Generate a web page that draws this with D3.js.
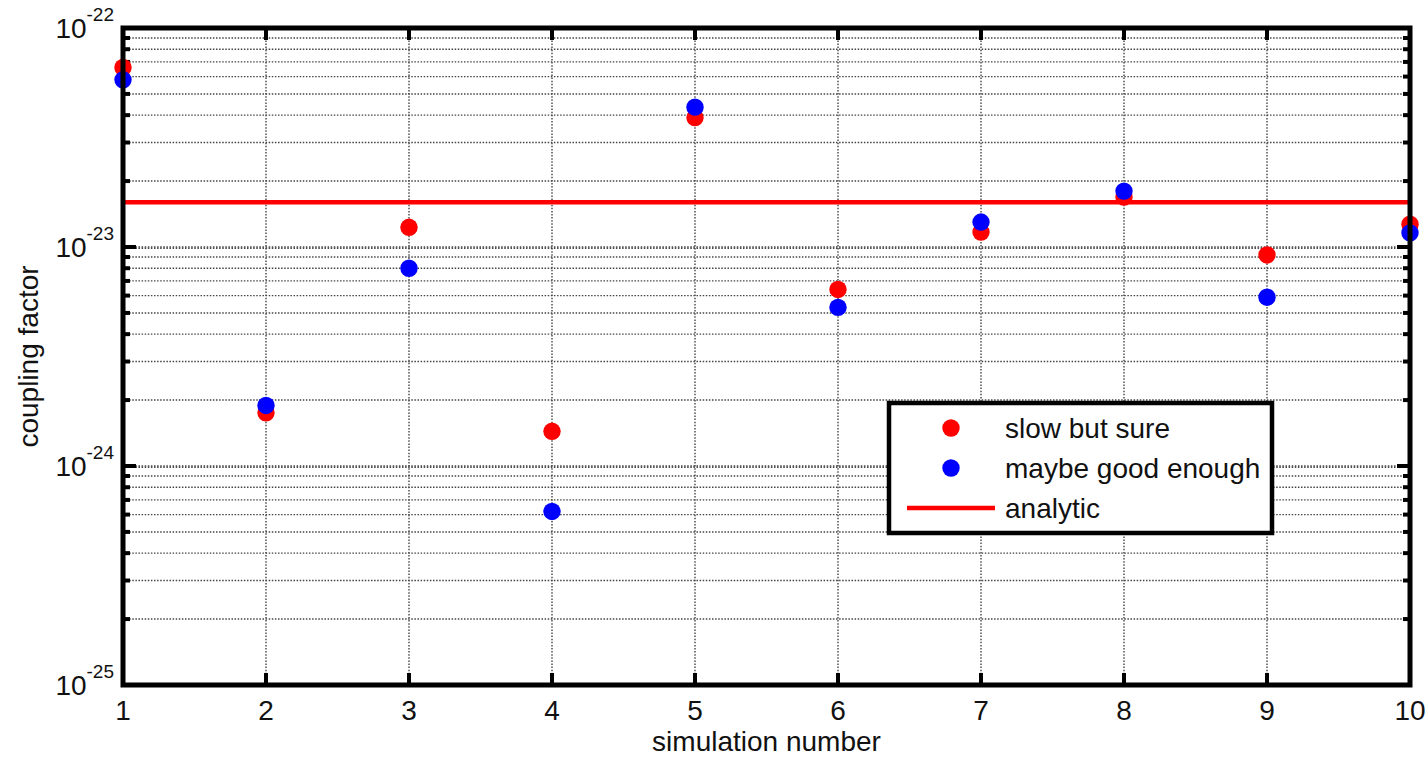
<!DOCTYPE html>
<html>
<head>
<meta charset="utf-8">
<script src="https://cdn.jsdelivr.net/npm/d3@7"></script>
<style>
  body { margin: 0; background: #fff; }
  svg { display: block; font-family: "Liberation Sans", Arial, sans-serif; }
</style>
</head>
<body>
<svg id="chart" width="1428" height="758"></svg>
<script>
// data
const sims = [1, 2, 3, 4, 5, 6, 7, 8, 9, 10];
const slowButSure = [6.6e-23, 1.75e-24, 1.23e-23, 1.44e-24, 3.9e-23, 6.4e-24, 1.17e-23, 1.69e-23, 9.2e-24, 1.27e-23];
const maybeGood = [5.8e-23, 1.89e-24, 8.0e-24, 6.2e-25, 4.35e-23, 5.3e-24, 1.3e-23, 1.8e-23, 5.9e-24, 1.16e-23];
const analytic = 1.6e-23;
const decades = [-25, -24, -23, -22];
const legendItems = ["slow but sure", "maybe good enough", "analytic"];

const svg = d3.select("#chart");
const pL = 123, pR = 1410, pT = 28, pB = 685;

const x = d3.scaleLinear().domain([1, 10]).range([pL, pR]);
const y = d3.scaleLog().domain([1e-25, 1e-22]).range([pB, pT]);

// minor ticks 2..9 in each decade
let minor = [];
decades.slice(0, 3).forEach(d => {
  for (let k = 2; k <= 9; k++) minor.push(k * Math.pow(10, d));
});
const major = decades.map(d => Math.pow(10, d));

const grid = svg.append("g")
  .attr("stroke", "#444").attr("stroke-width", 1.4).attr("stroke-dasharray", "1.5,1.6");
// horizontal grid
grid.selectAll("line.hm").data(minor.concat(major.slice(1, 3))).join("line")
  .attr("x1", pL).attr("x2", pR)
  .attr("y1", d => y(d)).attr("y2", d => y(d));
grid.selectAll("line.hM").data(major.slice(1, 3)).join("line")
  .attr("x1", pL).attr("x2", pR)
  .attr("y1", d => y(d) + 1.2).attr("y2", d => y(d) + 1.2);
// vertical grid
grid.selectAll("line.v").data(sims.slice(1, 9)).join("line")
  .attr("x1", d => x(d)).attr("x2", d => x(d))
  .attr("y1", pT).attr("y2", pB);

// ticks (left/right, top/bottom, pointing inside)
const ticks = svg.append("g").attr("stroke", "#000").attr("stroke-width", 4);
ticks.selectAll("line.ml").data(minor).join("line")
  .attr("x1", pL).attr("x2", pL + 7).attr("y1", d => y(d)).attr("y2", d => y(d));
ticks.selectAll("line.Ml").data(major).join("line")
  .attr("x1", pL).attr("x2", pL + 13).attr("y1", d => y(d)).attr("y2", d => y(d));
ticks.selectAll("line.mr").data(minor).join("line")
  .attr("x1", pR).attr("x2", pR - 7).attr("y1", d => y(d)).attr("y2", d => y(d));
ticks.selectAll("line.Mr").data(major).join("line")
  .attr("x1", pR).attr("x2", pR - 13).attr("y1", d => y(d)).attr("y2", d => y(d));
ticks.selectAll("line.xb").data(sims).join("line")
  .attr("x1", d => x(d)).attr("x2", d => x(d)).attr("y1", pB).attr("y2", pB - 12);
ticks.selectAll("line.xt").data(sims).join("line")
  .attr("x1", d => x(d)).attr("x2", d => x(d)).attr("y1", pT).attr("y2", pT + 12);

// analytic line
svg.append("line")
  .attr("x1", pL).attr("x2", pR)
  .attr("y1", y(analytic)).attr("y2", y(analytic))
  .attr("stroke", "#ff0000").attr("stroke-width", 4.5);

// points
svg.append("g").selectAll("circle").data(sims).join("circle")
  .attr("cx", d => x(d)).attr("cy", (d, i) => y(slowButSure[i]))
  .attr("r", 8.7).attr("fill", "#ff0000");
svg.append("g").selectAll("circle").data(sims).join("circle")
  .attr("cx", d => x(d)).attr("cy", (d, i) => y(maybeGood[i]))
  .attr("r", 8.7).attr("fill", "#0000ff");

// frame
svg.append("rect")
  .attr("x", pL).attr("y", pT).attr("width", pR - pL).attr("height", pB - pT)
  .attr("fill", "none").attr("stroke", "#000").attr("stroke-width", 5);

// x tick labels
svg.append("g").selectAll("text").data(sims).join("text")
  .attr("x", d => x(d)).attr("y", 720)
  .attr("text-anchor", "middle").attr("font-size", 28).attr("fill", "#111")
  .text(d => d);

// y tick labels 10^n
const yl = svg.append("g").selectAll("text").data(decades).join("text")
  .attr("x", 114).attr("y", d => y(Math.pow(10, d)) + 10)
  .attr("text-anchor", "end").attr("font-size", 28).attr("fill", "#111");
yl.append("tspan").text("10");
yl.append("tspan").attr("font-size", 19).attr("dy", -17).text(d => d);

// axis titles
svg.append("text").attr("x", pL + (pR - pL) / 2).attr("y", 751)
  .attr("text-anchor", "middle").attr("font-size", 28).attr("fill", "#111")
  .text("simulation number");
svg.append("text").attr("transform", "translate(38," + ((pT + pB) / 2) + ") rotate(-90)")
  .attr("text-anchor", "middle").attr("font-size", 28).attr("fill", "#111")
  .text("coupling factor");

// legend
const lg = svg.append("g").attr("transform", "translate(889,403)");
lg.append("rect").attr("width", 383).attr("height", 130)
  .attr("fill", "#fff").attr("stroke", "#000").attr("stroke-width", 4.5);
const rowY = [25, 65, 105];
lg.append("circle").attr("cx", 62).attr("cy", rowY[0]).attr("r", 8.7).attr("fill", "#ff0000");
lg.append("circle").attr("cx", 62).attr("cy", rowY[1]).attr("r", 8.7).attr("fill", "#0000ff");
lg.append("line").attr("x1", 18).attr("x2", 106).attr("y1", rowY[2]).attr("y2", rowY[2])
  .attr("stroke", "#ff0000").attr("stroke-width", 4.5);
lg.selectAll("text").data(legendItems).join("text")
  .attr("x", 116).attr("y", (d, i) => rowY[i] + 10)
  .attr("font-size", 28).attr("fill", "#111")
  .text(d => d);
</script>
</body>
</html>
